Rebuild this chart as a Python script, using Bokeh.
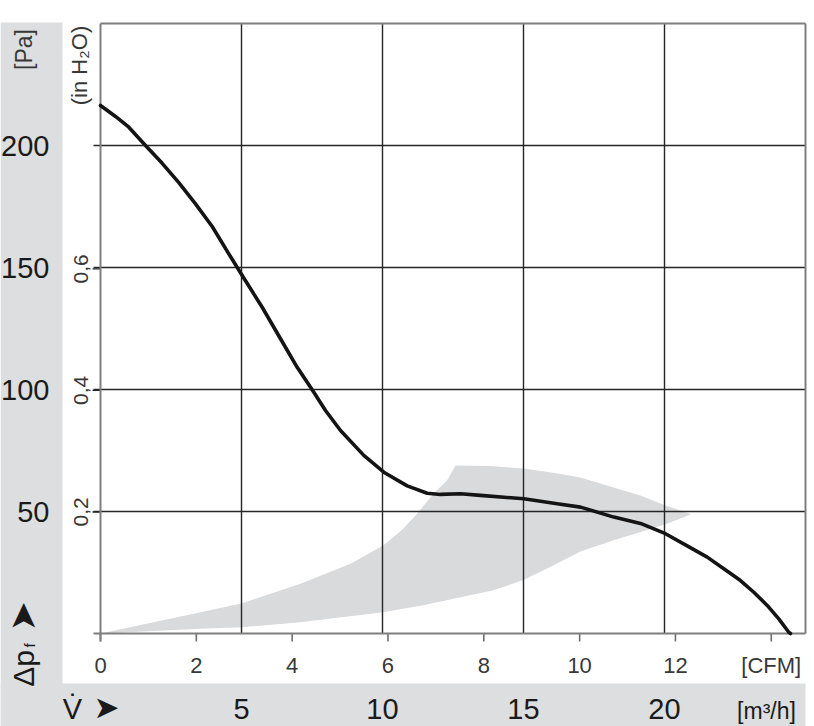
import math
from bokeh.plotting import figure
from bokeh.models import Range1d
from bokeh.core.properties import value
from bokeh.embed import file_html
from bokeh.resources import INLINE

# ---------------- data (volume flow in m³/h, static pressure in Pa) ----------------
flow_m3h = [0.0, 0.532, 1.004, 1.596, 2.188, 2.777, 3.369, 3.961, 4.550, 5.025, 5.734,
            6.383, 6.975, 7.507, 7.979, 8.511, 9.337, 10.046, 10.876, 11.585, 12.057,
            12.766, 13.475, 15.011, 16.195, 17.021, 18.202, 19.149, 20.035, 20.805,
            21.514, 22.103, 22.695, 23.167, 23.642, 24.053, 24.408, 24.468]
pressure_pa = [216.4, 211.9, 207.5, 200.0, 192.7, 184.8, 176.1, 166.8, 155.6, 146.7, 133.7,
               120.8, 109.1, 99.9, 91.4, 83.2, 73.0, 66.1, 60.5, 57.5, 57.0,
               57.3, 56.6, 55.2, 53.2, 51.8, 47.7, 45.1, 40.9, 35.9,
               31.3, 26.5, 21.7, 16.9, 11.5, 6.0, 0.5, 0.0]

# shaded operating zone: upper edge (left -> right), then lower edge (right -> left)
zone_upper_x = [0.0, 3.55, 5.02, 7.09, 8.87, 10.02, 10.7, 11.23, 11.81, 12.29, 12.59,
                13.8, 15.0, 16.0, 17.02, 18.19, 19.15, 19.96, 20.95]
zone_upper_y = [0.0, 8.7, 12.4, 20.4, 28.6, 36.1, 42.5, 49.1, 57.4, 62.7, 68.9,
                68.6, 67.6, 66.0, 63.9, 59.8, 56.6, 52.8, 48.9]
zone_lower_x = [20.04, 19.15, 18.2, 17.02, 16.0, 15.0, 13.9, 12.77, 11.4, 10.02,
                7.09, 5.02, 3.55, 0.0]
zone_lower_y = [44.8, 41.6, 38.2, 33.6, 27.6, 21.9, 17.6, 14.9, 11.5, 8.7,
                4.6, 2.6, 1.9, 0.0]

m3h_ticks = [5, 10, 15, 20]
m3h_labels = ["5", "10", "15", "20"]
cfm_ticks = [0, 2, 4, 6, 8, 10, 12, 14]
cfm_labels = ["0", "2", "4", "6", "8", "10", "12", "[CFM]"]
pa_ticks = [50, 100, 150, 200]
pa_labels = ["50", "100", "150", "200"]
inh2o_ticks = [0.2, 0.4, 0.6]
inh2o_labels = ["0,2", "0,4", "0,6"]

M3H_PER_CFM = 1.699
PA_PER_INH2O = 249.089
X_MAX, Y_MAX = 25.0, 250.0

# ---------------- layout (canvas pixels) ----------------
W, H = 814, 726
PL, PR, PT, PB = 100, 805, 23, 633      # plot area edges


def X(px):
    return (px - PL) / (PR - PL) * X_MAX


def Y(py):
    return (PB - py) / (PB - PT) * Y_MAX


FONT = "Liberation Sans"
SYM = "DejaVu Sans"
DARK = "#1a1a1a"
MID = "#383838"
BAND = "#dddee0"
ZONE = "#d9dadc"
GRID = "#262626"
FRAME = "#7f7f7f"

p = figure(width=W, height=H, output_backend="svg", toolbar_location=None,
           x_range=Range1d(X(0), X(W)), y_range=Range1d(Y(H), Y(0)),
           x_axis_location=None, y_axis_location=None, min_border=0)
p.outline_line_color = None
p.xgrid.grid_line_color = None
p.ygrid.grid_line_color = None
p.background_fill_color = "white"
p.border_fill_color = "white"

# gray bands (left and bottom)
p.quad(left=[X(0), X(0)], right=[X(62), X(PR)], top=[Y(22), Y(683)],
       bottom=[Y(H + 2), Y(H + 2)], fill_color=BAND, line_color=None)

# shaded operating zone
p.patch(zone_upper_x + zone_lower_x, zone_upper_y + zone_lower_y,
        fill_color=ZONE, line_color=None)

# grid lines
p.segment(x0=m3h_ticks, y0=[0] * len(m3h_ticks), x1=m3h_ticks, y1=[Y_MAX] * len(m3h_ticks),
          line_color=GRID, line_width=1.4)
p.segment(x0=[X(93)] * len(pa_ticks), y0=pa_ticks, x1=[X_MAX] * len(pa_ticks), y1=pa_ticks,
          line_color=GRID, line_width=1.4)

# in H2O tick marks (left, outside)
inh2o_pa = [v * PA_PER_INH2O for v in inh2o_ticks]
p.segment(x0=[X(92)] * len(inh2o_pa), y0=inh2o_pa, x1=[0] * len(inh2o_pa), y1=inh2o_pa,
          line_color=GRID, line_width=1.4)

# CFM tick marks (below)
cfm_x = [c * M3H_PER_CFM for c in cfm_ticks]
p.segment(x0=cfm_x, y0=[0] * len(cfm_x), x1=cfm_x, y1=[Y(641)] * len(cfm_x),
          line_color="#6e6e6e", line_width=1.6)

# frame
p.segment(x0=[0, X_MAX, 0, X(93)], y0=[Y(641), 0, Y_MAX, 0],
          x1=[0, X_MAX, X_MAX, X_MAX], y1=[Y_MAX, Y_MAX, Y_MAX, 0],
          line_color=FRAME, line_width=2)

# characteristic curve
p.line(flow_m3h, pressure_pa, line_color="#141414", line_width=3.6,
       line_join="round", line_cap="round")

# ---------------- tick labels ----------------
p.text(x=[X(49)] * len(pa_ticks), y=pa_ticks, text=pa_labels,
       text_font=value(FONT), text_font_size="29px", text_color=DARK,
       text_align="right", text_baseline="middle")
p.text(x=[X(80)] * len(inh2o_pa), y=inh2o_pa, text=inh2o_labels, angle=math.pi / 2,
       text_font=value(FONT), text_font_size="21px", text_color=MID,
       text_align="center", text_baseline="middle")
p.text(x=cfm_x, y=[Y(665)] * len(cfm_x), text=cfm_labels,
       text_font=value(FONT), text_font_size="22px", text_color=MID,
       text_align="center", text_baseline="middle")
p.text(x=m3h_ticks, y=[Y(708)] * len(m3h_ticks), text=m3h_labels,
       text_font=value(FONT), text_font_size="29px", text_color=DARK,
       text_align="center", text_baseline="middle")

# ---------------- unit labels and symbols ----------------
def lab(text, px, py, size, color=DARK, angle=0.0, align="center", baseline="middle", font=FONT):
    p.text(x=[X(px)], y=[Y(py)], text=[text], angle=angle,
           text_font=value(font), text_font_size=size, text_color=color,
           text_align=align, text_baseline=baseline)


lab("[Pa]", 23, 49, "23px", MID, math.pi / 2)
lab("(in H\u2082O)", 79, 65, "22px", MID, math.pi / 2)
lab("\u0394p", 23, 668, "30px", DARK, math.pi / 2)
lab("f", 29, 645, "15px", DARK, math.pi / 2)
lab("\u27a4", 22, 616, "36px", DARK, math.pi / 2, font=SYM)
lab("V\u0307", 72, 708, "29px", DARK)
lab("\u27a4", 106, 706, "31px", DARK, font=SYM)
lab("[m\u00b3/h]", 766, 710, "23px", DARK)

open("out.html", "w").write(file_html(p, INLINE))
